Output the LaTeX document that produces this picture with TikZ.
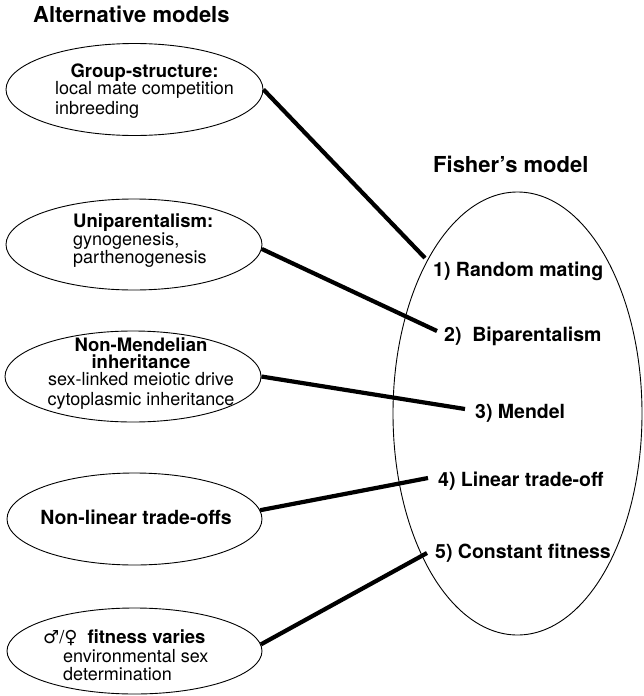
\documentclass[tikz,border=0pt]{standalone}
\usepackage{fontspec}
\setmainfont{TeX Gyre Heros}
\newfontfamily\symfont{DejaVu Sans}
\usetikzlibrary{shapes.geometric}
\newcommand{\hdtext}[1]{{\fontsize{18.5}{20}\selectfont\bfseries #1}}
\begin{document}
\begin{tikzpicture}[x=1pt,y=-1pt,
  oval/.style={draw, ellipse, line width=0.9pt, inner sep=0pt},
  link/.style={line width=4.2pt},
  item/.style={font=\fontsize{19.5}{22}\selectfont\bfseries, anchor=base west, inner sep=0pt},
  body/.style={font=\fontsize{18}{20}\selectfont, inner sep=0pt},
  heading/.style={font=\fontsize{22}{24}\selectfont\bfseries, anchor=base west, inner sep=0pt}]
\useasboundingbox (0,0) rectangle (643,696);
% titles
\node[heading] (alt) at (33,23) {Alternative models};
\node[heading] (fis) at (433,172) {Fisher’s model};
% alternative ellipses
\node[oval, minimum width=257pt, minimum height=92pt] (e1) at (134.5,89.5) {};
\node[oval, minimum width=256pt, minimum height=91pt] (e2) at (134,244.5) {};
\node[oval, minimum width=256pt, minimum height=91pt] (e3) at (133,376.5) {};
\node[oval, minimum width=255pt, minimum height=92pt] (e4) at (134.5,519) {};
\node[oval, minimum width=255pt, minimum height=86pt] (e5) at (134.5,651) {};
% Fisher ellipse
\node[oval, minimum width=249pt, minimum height=443pt] (fe) at (517.5,413.5) {};
% ellipse texts
\node[body, anchor=base west] (t1) at (55,77) {\begin{tabular}[t]{@{}l@{}}\multicolumn{1}{@{}c@{}}{\hdtext{Group-structure:}}\\[-3pt] local mate competition\\ inbreeding\end{tabular}};
\node[body, anchor=base west] (t2) at (73,227) {\begin{tabular}[t]{@{}l@{}}\hdtext{Uniparentalism:}\\[-2pt] gynogenesis,\\[-2pt] parthenogenesis\end{tabular}};
\node[body, anchor=base] (t3) at (141,351) {\begin{tabular}[t]{@{}c@{}}\hdtext{Non-Mendelian}\\[-3pt] \hdtext{inheritance}\\[-3pt] sex-linked meiotic drive\\ cytoplasmic inheritance\end{tabular}};
\node[body, anchor=base, font=\fontsize{19.5}{22}\selectfont\bfseries] (t4) at (136,524) {Non-linear trade-offs};
\node[body, anchor=base west] (t5) at (63,643) {\begin{tabular}[t]{@{}l@{}}\hspace*{-20pt}{\symfont ♂}/{\symfont ♀}\hspace{10pt}\hdtext{fitness varies}\\[-1pt] environmental sex\\[-2pt] determination\end{tabular}};
% Fisher items
\node[item] (i1) at (433,276) {1) Random mating};
\node[item] (i2) at (444,341) {2)\ \ Biparentalism};
\node[item] (i3) at (475,418) {3) Mendel};
\node[item] (i4) at (438,486) {4) Linear trade-off};
\node[item] (i5) at (435,558) {5) Constant fitness};
% connector ends
\coordinate (p1) at (425,258);
\coordinate (p2) at (437,331);
\coordinate (p3) at (465,409);
\coordinate (p4) at (428,478);
\coordinate (p5) at (427,553);
\draw[link] (e1.east) -- (p1);
\draw[link] (e2.-2) -- (p2);
\draw[link] (e3.east) -- (p3);
\draw[link] (e4.4) -- (p4);
\draw[link] (e5.3) -- (p5);
\end{tikzpicture}
\end{document}
